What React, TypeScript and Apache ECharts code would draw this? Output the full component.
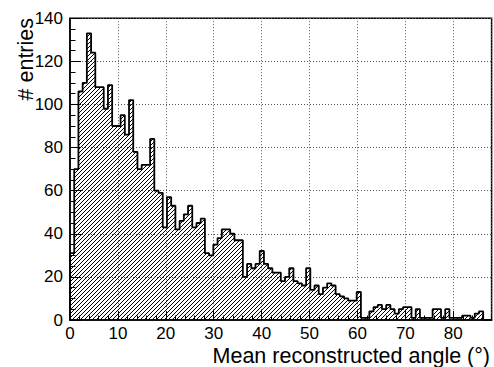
import React, { useEffect, useRef } from "react";
import * as echarts from "echarts";

// Histogram: 100 equal bins on [xMin, xMax]
const xMin = 0;
const xMax = 88;
const binCount = 100;
const counts = [
  31, 70, 106, 110, 133, 124, 108, 108, 98, 109,
  90, 90, 95, 86, 102, 78, 70, 72, 72, 84,
  60, 59, 43, 57, 53, 42, 46, 49, 53, 43,
  45, 47, 31, 30, 35, 38, 42, 42, 40, 37,
  37, 20, 26, 24, 26, 32, 26, 24, 22, 22,
  18, 20, 24, 18, 17, 16, 24, 14, 16, 12,
  15, 17, 16, 12, 11, 10, 9, 9, 13, 1,
  1, 4, 6, 7, 5, 7, 5, 3, 5, 6,
  6, 1, 5, 1, 1, 1, 5, 5, 1, 5,
  1, 1, 1, 2, 2, 1, 3, 4, 0, 0,
];
const yMin = 0;
const yMax = 140;
const xMajor = 10;
const xMinor = 2;
const yMajor = 20;
const xTitle = "Mean reconstructed angle (°)";
const yTitle = "# entries";

const FONT = "'Liberation Sans', Arial, Helvetica, sans-serif";

function makeHatch(): HTMLCanvasElement {
  const c = document.createElement("canvas");
  c.width = 4;
  c.height = 4;
  const ctx = c.getContext("2d")!;
  ctx.fillStyle = "#000";
  for (let i = 0; i < 4; i++) ctx.fillRect(i, 3 - i, 1, 1);
  return c;
}

export default function App() {
  const ref = useRef<HTMLDivElement>(null);

  useEffect(() => {
    document.body.style.margin = "0";
    if (!ref.current) return;
    const chart = echarts.init(ref.current, undefined, { renderer: "svg" });

    const w = (xMax - xMin) / binCount;
    const pts: number[][] = [[xMin, 0]];
    counts.forEach((v, i) => pts.push([xMin + i * w, v]));
    pts.push([xMax, 0]);

    const grid = { left: 70, top: 18.2, right: 2.4, bottom: 47 };

    chart.setOption({
      animation: false,
      backgroundColor: "#fff",
      grid: {
        ...grid,
        show: true,
        borderColor: "#000",
        borderWidth: 1.5,
        backgroundColor: "transparent",
      },
      xAxis: [
        {
          type: "value",
          min: xMin,
          max: xMax,
          interval: xMajor,
          axisLine: { show: true, lineStyle: { color: "#000", width: 1.5 } },
          axisTick: { show: true, inside: true, length: 9, lineStyle: { color: "#000", width: 1 } },
          axisLabel: {
            showMaxLabel: false,
            margin: 5,
            fontSize: 17,
            color: "#000",
            fontFamily: FONT,
          },
          splitLine: { show: true, lineStyle: { type: [1, 2], color: "#555", width: 1 } },
        },
        {
          type: "value",
          min: xMin,
          max: xMax,
          interval: xMinor,
          position: "bottom",
          axisLine: { show: false },
          axisTick: { show: true, inside: true, length: 4.5, lineStyle: { color: "#000", width: 1 } },
          axisLabel: { show: false },
          splitLine: { show: false },
        },
      ],
      yAxis: {
        type: "value",
        min: yMin,
        max: yMax,
        interval: yMajor,
        axisLine: { show: true, lineStyle: { color: "#000", width: 1.5 } },
        axisTick: { show: true, inside: true, length: 11, lineStyle: { color: "#000", width: 1 } },
        minorTick: { show: true, splitNumber: 4, length: 5.5, lineStyle: { color: "#000", width: 1 } },
        axisLabel: { margin: 7, fontSize: 17, color: "#000", fontFamily: FONT },
        splitLine: { show: true, lineStyle: { type: [1, 2], color: "#555", width: 1 } },
      },
      series: [
        {
          type: "line",
          xAxisIndex: 0,
          data: pts,
          step: "end",
          showSymbol: false,
          symbol: "none",
          lineStyle: { color: "#000", width: 1.8 },
          areaStyle: {
            color: { image: makeHatch(), repeat: "repeat" } as any,
            opacity: 1,
          },
        },
      ],
      graphic: [
        {
          type: "text",
          x: 490,
          y: 355.5,
          style: {
            text: xTitle,
            fontSize: 21.5,
            fontFamily: FONT,
            fill: "#000",
            align: "right",
            verticalAlign: "middle",
          },
        },
        {
          type: "text",
          x: 25.5,
          y: 18,
          rotation: Math.PI / 2,
          style: {
            text: yTitle,
            fontSize: 21.5,
            fontFamily: FONT,
            fill: "#000",
            align: "right",
            verticalAlign: "middle",
          },
        },
      ],
    });

    return () => chart.dispose();
  }, []);

  return <div ref={ref} style={{ width: 494, height: 367 }} />;
}
